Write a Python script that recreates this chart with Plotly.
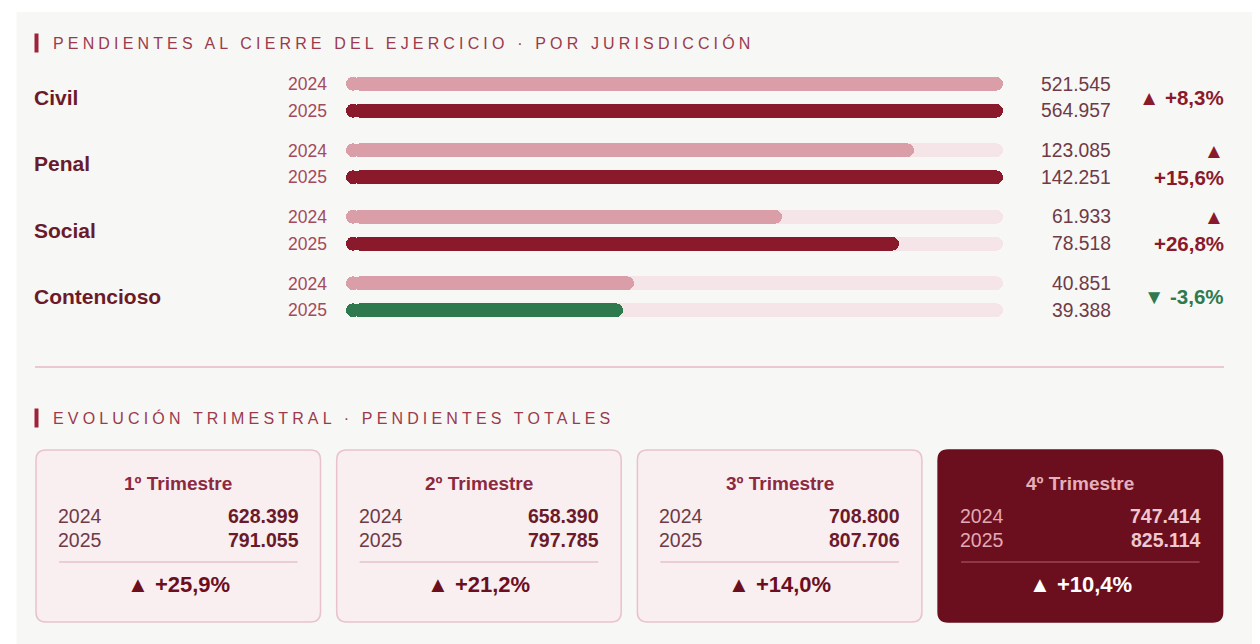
import plotly.graph_objects as go

# page body has an 8px margin; the figure is sized to fill the rest of the 1260x644 window
OFF = 8
W, H = 1260 - OFF, 644 - OFF

# ---------------- data ----------------
jurisdicciones = ["Civil", "Penal", "Social", "Contencioso"]
anios = ["2024", "2025"]
pendientes_2024 = [521545, 123085, 61933, 40851]
pendientes_2025 = [564957, 142251, 78518, 39388]
# per-jurisdiction scale maximum
tope_escala = [521545, 142251, 93300, 93300]

trimestres = ["1º Trimestre", "2º Trimestre", "3º Trimestre", "4º Trimestre"]
total_2024 = [628399, 658390, 708800, 747414]
total_2025 = [791055, 797785, 807706, 825114]

titulo_1 = "PENDIENTES AL CIERRE DEL EJERCICIO · POR JURISDICCIÓN"
titulo_2 = "EVOLUCIÓN TRIMESTRAL · PENDIENTES TOTALES"

# ---------------- styles ----------------
FONT = "Liberation Sans, Arial, sans-serif"
PANEL = "#f7f7f5"
TRACK = "#f5e4e8"
C24 = "#d99ea8"
C25 = "#8a1a2b"
GREEN = "#2e7a4e"
NAME_C = "#6b1a2a"
YEAR_C = "#a34a5b"
VAL_C = "#6e3b47"
TITLE_C = "#9b3a4c"
ACCENT = "#9e2238"
CARD_BG = "#f9eef0"
CARD_BORDER = "#e9c3cb"
CARD_DARK = "#6b0f1f"

BAR_PX = 14.0          # bar thickness in pixels
RAD = 7                # corner radius in pixels
TRACK_X0, TRACK_X1 = 346.0, 1003.0


def px(x):
    return (x - OFF) / W


def py(y):
    return 1 - (y - OFF) / H


def fmt(v):
    return f"{v:,}".replace(",", ".")


def pct(a, b):
    p = (b / a - 1) * 100
    s = f"{p:+.1f}".replace(".", ",")
    return p, s + "%"


fig = go.Figure()
shapes = []
annotations = []

# panel background
shapes.append(dict(type="rect", xref="paper", yref="paper", x0=px(16.5), x1=1.0,
                   y0=0, y1=py(12), fillcolor=PANEL, line_width=0, layer="below"))


def title(text, ycen):
    shapes.append(dict(type="rect", xref="paper", yref="paper", x0=px(34.5), x1=px(38.5),
                       y0=py(ycen + 9.5), y1=py(ycen - 9.5), fillcolor=ACCENT, line_width=0))
    annotations.append(dict(
        text=f'<span style="letter-spacing:4.15px">{text}</span>',
        xref="paper", yref="paper", x=px(53), y=py(ycen), xanchor="left", yanchor="middle",
        showarrow=False, borderpad=0, borderwidth=0,
        font=dict(family=FONT, size=16, color=TITLE_C)))


title(titulo_1, 43)
title(titulo_2, 418)


def pill(values, colors, xa, ya, pad, bw):
    """A rounded bar = left cap (rounded left end) + body (rounded right end)."""
    common = dict(y=anios, orientation="h", width=bw, xaxis=xa, yaxis=ya,
                  hoverinfo="skip", showlegend=False)
    fig.add_trace(go.Bar(x=[-2 * pad] * len(values), base=[2 * pad] * len(values),
                         marker=dict(color=colors, cornerradius=RAD, line_width=0), **common))
    fig.add_trace(go.Bar(x=[v - pad for v in values], base=[pad] * len(values),
                         marker=dict(color=colors, cornerradius=RAD, line_width=0), **common))


# ---------------- bars ----------------
layout_axes = {}
row0 = 84.0
row_step = 66.5
pair_step = 26.5
track_px = TRACK_X1 - TRACK_X0
for j, name in enumerate(jurisdicciones):
    k = j + 1
    xa = "x" if k == 1 else f"x{k}"
    ya = "y" if k == 1 else f"y{k}"
    c0 = row0 + j * row_step
    top = c0 - pair_step / 2
    bot = c0 + pair_step * 1.5
    tope = tope_escala[j]
    pad = RAD * tope / track_px     # corner radius expressed in data units
    layout_axes["xaxis" if k == 1 else f"xaxis{k}"] = dict(
        domain=[px(TRACK_X0), px(TRACK_X1)], range=[0, tope], visible=False,
        fixedrange=True, anchor=ya)
    layout_axes["yaxis" if k == 1 else f"yaxis{k}"] = dict(
        domain=[py(bot), py(top)], type="category", categoryarray=anios,
        range=[1.5, -0.5], showgrid=False, zeroline=False, showline=False, ticks="",
        ticklabelstandoff=18, fixedrange=True, anchor=xa,
        tickfont=dict(family=FONT, size=17.5, color=YEAR_C))

    v24, v25 = pendientes_2024[j], pendientes_2025[j]
    col25 = GREEN if v25 < v24 else C25
    shown = [min(v24, tope), min(v25, tope)]
    bw = BAR_PX / pair_step
    pill([tope, tope], [TRACK, TRACK], xa, ya, pad, bw)
    pill(shown, [C24, col25], xa, ya, pad, bw)

    annotations.append(dict(
        text=f"<b>{name}</b>", xref="paper", yref=ya, x=px(34), y=0.5,
        xanchor="left", yanchor="middle", showarrow=False, borderpad=0, borderwidth=0,
        font=dict(family=FONT, size=21, color=NAME_C)))
    for idx, v in enumerate([v24, v25]):
        annotations.append(dict(
            text=fmt(v), xref="paper", yref=ya, x=px(1111), y=idx,
            xanchor="right", yanchor="middle", showarrow=False, borderpad=0, borderwidth=0,
            font=dict(family=FONT, size=19.3, color=VAL_C)))
    p, s = pct(v24, v25)
    arrow = "▲" if p >= 0 else "▼"
    pc = C25 if p >= 0 else GREEN
    txt = f"{arrow}<br>{s}" if abs(p) >= 10 else f"{arrow} {s}"
    annotations.append(dict(
        text=f"<b>{txt}</b>", xref="paper", yref=ya, x=px(1224), y=0.5,
        xanchor="right", yanchor="middle", align="right", showarrow=False,
        borderpad=0, borderwidth=0,
        font=dict(family=FONT, size=20.5, color=pc)))

# separator
shapes.append(dict(type="line", xref="paper", yref="paper", x0=px(35), x1=px(1224),
                   y0=py(367), y1=py(367), line=dict(color="#ecc8d0", width=2)))

# ---------------- cards ----------------
card_x0 = 36.0
card_w = 284.5
card_step = 300.7
card_top, card_bot = 450.0, 622.0
r = 10.0


def rounded_path(x0, y0, x1, y1, rad):
    def P(x, y):
        return f"{px(x):.6f},{py(y):.6f}"
    return (f"M {P(x0 + rad, y0)} L {P(x1 - rad, y0)} Q {P(x1, y0)} {P(x1, y0 + rad)} "
            f"L {P(x1, y1 - rad)} Q {P(x1, y1)} {P(x1 - rad, y1)} "
            f"L {P(x0 + rad, y1)} Q {P(x0, y1)} {P(x0, y1 - rad)} "
            f"L {P(x0, y0 + rad)} Q {P(x0, y0)} {P(x0 + rad, y0)} Z")


n = len(trimestres)
for i, tname in enumerate(trimestres):
    x0 = card_x0 + i * card_step
    x1 = x0 + card_w
    cx = (x0 + x1) / 2
    dark = i == n - 1
    shapes.append(dict(type="path", xref="paper", yref="paper",
                       path=rounded_path(x0, card_top, x1, card_bot, r),
                       fillcolor=CARD_DARK if dark else CARD_BG,
                       line=dict(color=CARD_DARK if dark else CARD_BORDER, width=1.5)))
    t_col = "#e6b0bb" if dark else "#8b2a3e"
    y_col = "#e2a9b5" if dark else "#6e3b47"
    v_col = "#f0c6cf" if dark else "#6b1a2a"
    d_col = "#9a4656" if dark else "#e6c3ca"
    p_col = "#ffffff" if dark else CARD_DARK

    annotations.append(dict(
        text=f"<b>{tname}</b>", xref="paper", yref="paper", x=px(cx), y=py(483.5),
        xanchor="center", yanchor="middle", showarrow=False, borderpad=0, borderwidth=0,
        font=dict(family=FONT, size=19, color=t_col)))
    for yy, a, v in [(515.5, anios[0], total_2024[i]), (540.0, anios[1], total_2025[i])]:
        annotations.append(dict(
            text=a, xref="paper", yref="paper", x=px(x0 + 22), y=py(yy),
            xanchor="left", yanchor="middle", showarrow=False, borderpad=0, borderwidth=0,
            font=dict(family=FONT, size=19.5, color=y_col)))
        annotations.append(dict(
            text=f"<b>{fmt(v)}</b>", xref="paper", yref="paper", x=px(x1 - 22), y=py(yy),
            xanchor="right", yanchor="middle", showarrow=False, borderpad=0, borderwidth=0,
            font=dict(family=FONT, size=19.5, color=v_col)))
    shapes.append(dict(type="line", xref="paper", yref="paper", x0=px(x0 + 23),
                       x1=px(x1 - 23), y0=py(562), y1=py(562),
                       line=dict(color=d_col, width=1.5)))
    p, s = pct(total_2024[i], total_2025[i])
    arrow = "▲" if p >= 0 else "▼"
    annotations.append(dict(
        text=f"<b>{arrow} {s}</b>", xref="paper", yref="paper", x=px(cx), y=py(584),
        xanchor="center", yanchor="middle", showarrow=False, borderpad=0, borderwidth=0,
        font=dict(family=FONT, size=22, color=p_col)))

fig.update_layout(
    width=W, height=H, margin=dict(l=0, r=0, t=0, b=0),
    paper_bgcolor="#ffffff", plot_bgcolor="rgba(0,0,0,0)",
    barmode="overlay", bargap=0, showlegend=False,
    shapes=shapes, annotations=annotations,
    font=dict(family=FONT),
    **layout_axes,
)

fig.write_html("out.html", config={"displayModeBar": False})
